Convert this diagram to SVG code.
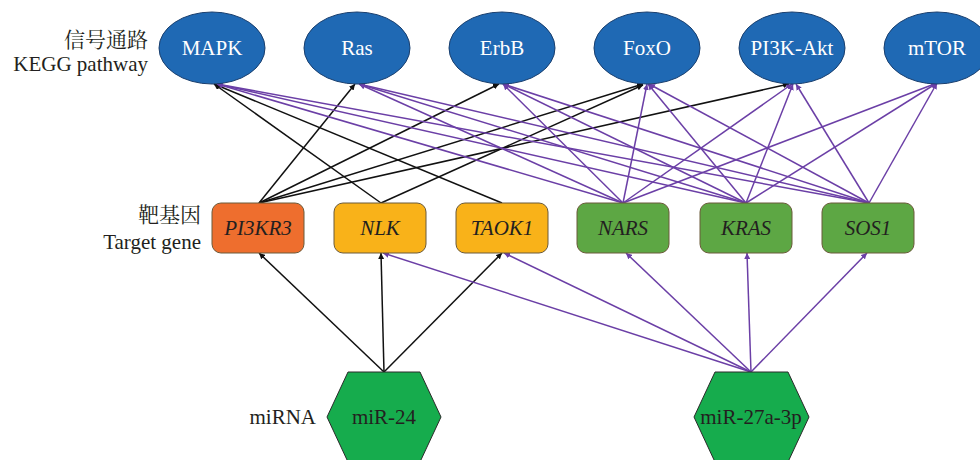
<svg xmlns="http://www.w3.org/2000/svg" width="980" height="460" viewBox="0 0 980 460">
<style>
.lbl{font-family:"Liberation Serif","Times New Roman","DejaVu Serif","Noto Serif CJK SC","Noto Sans CJK SC",serif;font-size:21px;fill:#231f20}
.pw ellipse{fill:#1f69b4;stroke:#1a3f6e;stroke-width:1}
.pw text{font-family:"Liberation Serif","Times New Roman","DejaVu Serif",serif;font-size:21px;fill:#ffffff;text-anchor:middle}
.gene rect{stroke:#6b5a3a;stroke-width:1}
.gene text{font-family:"Liberation Serif","Times New Roman","DejaVu Serif",serif;font-size:21px;font-style:italic;fill:#231f20;text-anchor:middle}
.mi polygon{fill:#16ac4d;stroke:#2a2a2a;stroke-width:1}
.mi text{font-family:"Liberation Serif","Times New Roman","DejaVu Serif",serif;font-size:21px;fill:#231f20;text-anchor:middle}
.k{stroke:#111111;stroke-width:1.5;fill:none;marker-end:url(#ak)}
.p{stroke:#6b3fa6;stroke-width:1.5;fill:none;marker-end:url(#ap)}
</style>
<defs>
<marker id="ak" viewBox="0 0 10 10" refX="10" refY="5" markerWidth="6" markerHeight="6" orient="auto" markerUnits="userSpaceOnUse"><path d="M0,0 L10,5 L0,10 z" fill="#111111"/></marker>
<marker id="ap" viewBox="0 0 10 10" refX="10" refY="5" markerWidth="6" markerHeight="6" orient="auto" markerUnits="userSpaceOnUse"><path d="M0,0 L10,5 L0,10 z" fill="#6b3fa6"/></marker>
</defs>
<g id="labels">
<text class="lbl" x="148" y="47" text-anchor="end">信号通路</text>
<text class="lbl" x="148" y="71" text-anchor="end">KEGG pathway</text>
<text class="lbl" x="201" y="222" text-anchor="end">靶基因</text>
<text class="lbl" x="201" y="249" text-anchor="end">Target gene</text>
<text class="lbl" x="316" y="424" text-anchor="end">miRNA</text>
</g>
<g id="connectors">
<line class="k" x1="259" y1="203" x2="355" y2="84"/>
<line class="k" x1="259" y1="203" x2="499" y2="84"/>
<line class="k" x1="259" y1="203" x2="643" y2="84"/>
<line class="k" x1="259" y1="203" x2="789" y2="84"/>
<line class="k" x1="381" y1="203" x2="214" y2="84"/>
<line class="k" x1="381" y1="203" x2="643" y2="85"/>
<line class="k" x1="502" y1="203" x2="214" y2="84"/>
<line class="p" x1="623" y1="203" x2="217" y2="84"/>
<line class="p" x1="746" y1="203" x2="217" y2="84"/>
<line class="p" x1="869" y1="203" x2="217" y2="84"/>
<line class="p" x1="623" y1="203" x2="359" y2="84"/>
<line class="p" x1="746" y1="203" x2="359" y2="84"/>
<line class="p" x1="869" y1="203" x2="359" y2="84"/>
<line class="p" x1="623" y1="203" x2="503" y2="84"/>
<line class="p" x1="746" y1="203" x2="503" y2="84"/>
<line class="p" x1="869" y1="203" x2="503" y2="84"/>
<line class="p" x1="623" y1="203" x2="647" y2="84"/>
<line class="p" x1="746" y1="203" x2="648" y2="84"/>
<line class="p" x1="869" y1="203" x2="649" y2="84"/>
<line class="p" x1="623" y1="203" x2="792" y2="84"/>
<line class="p" x1="746" y1="203" x2="793" y2="84"/>
<line class="p" x1="869" y1="203" x2="796" y2="84"/>
<line class="p" x1="623" y1="203" x2="937" y2="83"/>
<line class="p" x1="746" y1="203" x2="937" y2="83"/>
<line class="p" x1="869" y1="203" x2="937" y2="83"/>
<line class="k" x1="384" y1="372" x2="259" y2="253"/>
<line class="k" x1="384" y1="372" x2="381" y2="253"/>
<line class="k" x1="384" y1="372" x2="502" y2="253"/>
<line class="p" x1="751" y1="372" x2="383" y2="253"/>
<line class="p" x1="751" y1="372" x2="504" y2="253"/>
<line class="p" x1="751" y1="372" x2="626" y2="253"/>
<line class="p" x1="751" y1="372" x2="747" y2="253"/>
<line class="p" x1="751" y1="372" x2="867" y2="253"/>
</g>
<g id="n-MAPK" class="pw"><ellipse cx="212" cy="48" rx="53" ry="36"/><text x="212" y="55">MAPK</text></g>
<g id="n-Ras" class="pw"><ellipse cx="357" cy="48" rx="53" ry="36"/><text x="357" y="55">Ras</text></g>
<g id="n-ErbB" class="pw"><ellipse cx="502" cy="48" rx="53" ry="36"/><text x="502" y="55">ErbB</text></g>
<g id="n-FoxO" class="pw"><ellipse cx="647" cy="48" rx="53" ry="36"/><text x="647" y="55">FoxO</text></g>
<g id="n-PI3K-Akt" class="pw"><ellipse cx="792" cy="48" rx="53" ry="36"/><text x="792" y="55">PI3K-Akt</text></g>
<g id="n-mTOR" class="pw"><ellipse cx="937" cy="48" rx="53" ry="36"/><text x="937" y="55">mTOR</text></g>
<g id="n-PI3KR3" class="gene"><rect x="212" y="203" width="92" height="50" rx="9" fill="#ee6e2e"/><text x="258" y="235">PI3KR3</text></g>
<g id="n-NLK" class="gene"><rect x="334" y="203" width="92" height="50" rx="9" fill="#f9b219"/><text x="380" y="235">NLK</text></g>
<g id="n-TAOK1" class="gene"><rect x="456" y="203" width="92" height="50" rx="9" fill="#f9b219"/><text x="502" y="235">TAOK1</text></g>
<g id="n-NARS" class="gene"><rect x="577" y="203" width="92" height="50" rx="9" fill="#5da744" stroke="#3b6e2d"/><text x="623" y="235">NARS</text></g>
<g id="n-KRAS" class="gene"><rect x="700" y="203" width="92" height="50" rx="9" fill="#5da744"/><text x="746" y="235">KRAS</text></g>
<g id="n-SOS1" class="gene"><rect x="822" y="203" width="92" height="50" rx="9" fill="#5da744"/><text x="868" y="235">SOS1</text></g>
<g id="n-miR-24" class="mi"><polygon points="327,417 348,372 420,372 441,417 420,462 348,462"/><text x="384" y="424">miR-24</text></g>
<g id="n-miR-27a-3p" class="mi"><polygon points="694,417 715,372 788,372 809,417 788,462 715,462"/><text x="751" y="424">miR-27a-3p</text></g>
</svg>
